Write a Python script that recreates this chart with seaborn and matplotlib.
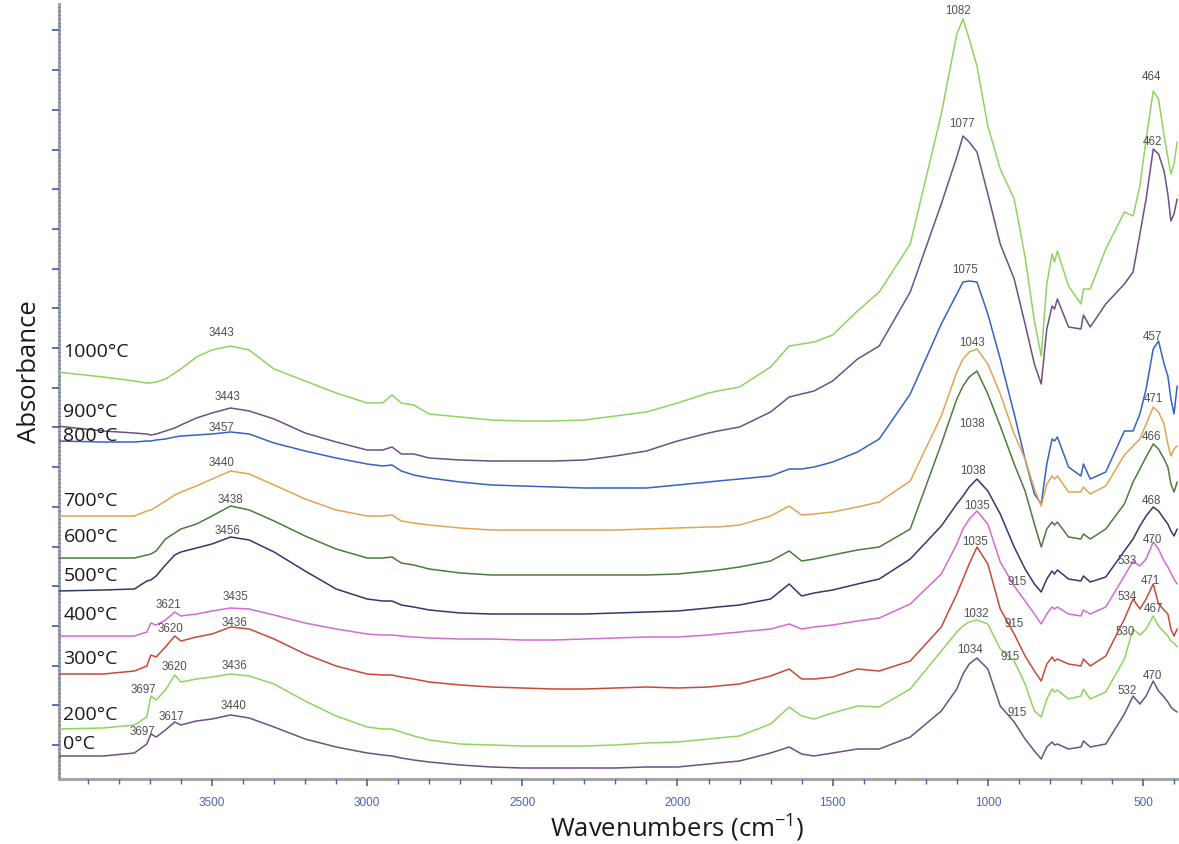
import matplotlib
matplotlib.use("Agg")
import matplotlib.pyplot as plt
import matplotlib.ticker as mticker
import matplotlib.transforms as mtransforms
import pandas as pd
import seaborn as sns
import numpy as np

# wavenumber grid (cm-1) used for every spectrum
wavenumbers = [4000, 3850, 3750, 3710, 3697, 3680, 3650, 3620, 3600, 3550,
               3500, 3440, 3380, 3300, 3200, 3100, 3000, 2950, 2920, 2890,
               2850, 2800, 2700, 2600, 2500, 2400, 2300, 2200, 2100, 2000,
               1900, 1870, 1800, 1700, 1640, 1600, 1560, 1500, 1420, 1350,
               1250, 1150, 1100, 1080, 1060, 1035, 1000, 960, 915, 880,
               850, 828, 810, 793, 785, 776, 740, 700, 692, 670,
               620, 560, 532, 510, 490, 467, 450, 432, 420, 410, 400, 390]

# stacked absorbance (arbitrary units, offset per temperature)
abs_1000 = [407, 402, 398, 396, 396, 397, 400, 406, 410, 422,
            429, 433, 429, 410, 398, 386, 376, 376, 384, 376,
            374, 365, 362, 359, 358, 358, 359, 363, 367, 376,
            386, 388, 392, 412, 433, 435, 437, 444, 468, 487,
            535, 665, 745, 760, 740, 713, 653, 610, 580, 522,
            458, 423, 495, 525, 517, 528, 493, 475, 490, 490,
            530, 567, 563, 593, 640, 688, 680, 643, 622, 605, 615, 637]
abs_900 = [353, 348, 346, 345, 344, 345, 348, 351, 354, 361,
           366, 371, 368, 360, 346, 337, 329, 329, 332, 325,
           325, 321, 319, 318, 318, 318, 319, 323, 328, 338,
           346, 348, 352, 367, 382, 385, 388, 398, 420, 433,
           487, 575, 622, 643, 637, 627, 585, 535, 500, 455,
           415, 395, 450, 473, 470, 480, 452, 450, 464, 452,
           475, 495, 507, 545, 580, 630, 625, 608, 585, 558, 565, 580]
abs_800 = [338, 337, 337, 338, 338, 339, 340, 342, 343, 344,
           345, 347, 345, 336, 328, 321, 315, 313, 314, 308,
           304, 301, 297, 294, 293, 292, 291, 291, 291, 294,
           297, 298, 300, 303, 310, 310, 312, 317, 327, 340,
           385, 455, 485, 497, 498, 497, 465, 420, 365, 320,
           285, 275, 315, 340, 338, 342, 312, 303, 315, 300,
           307, 348, 348, 365, 390, 430, 438, 415, 403, 380, 365, 393]
abs_700 = [263, 263, 263, 268, 269, 272, 278, 284, 287, 293,
           300, 308, 305, 294, 280, 269, 263, 263, 264, 258,
           256, 254, 251, 249, 249, 249, 249, 249, 250, 251,
           252, 252, 254, 263, 273, 264, 265, 267, 272, 277,
           298, 363, 407, 420, 427, 430, 415, 385, 345, 320,
           290, 273, 295, 303, 300, 303, 287, 287, 292, 285,
           293, 324, 333, 340, 355, 372, 367, 355, 335, 323, 330, 333]
abs_600 = [221, 221, 221, 224, 225, 228, 240, 246, 250, 255,
           263, 273, 269, 258, 243, 230, 221, 221, 222, 216,
           214, 210, 206, 204, 204, 204, 204, 204, 204, 205,
           208, 209, 212, 218, 228, 218, 220, 224, 229, 232,
           250, 335, 380, 393, 402, 408, 385, 353, 315, 288,
           255, 232, 250, 257, 254, 257, 242, 240, 245, 240,
           250, 275, 297, 310, 322, 335, 330, 320, 312, 295, 287, 297]
abs_500 = [188, 189, 190, 198, 199, 203, 214, 224, 227, 231,
           235, 242, 239, 227, 208, 190, 180, 178, 178, 174,
           172, 169, 166, 165, 165, 165, 165, 166, 167, 168,
           171, 172, 174, 180, 195, 183, 186, 189, 195, 200,
           220, 253, 275, 283, 292, 300, 288, 265, 232, 210,
           195, 187, 200, 208, 205, 209, 200, 198, 203, 197,
           202, 228, 240, 253, 263, 272, 268, 260, 255, 248, 243, 250]
abs_400 = [143, 143, 143, 147, 156, 154, 159, 167, 163, 165,
           168, 171, 170, 164, 156, 150, 145, 144, 144, 143,
           142, 141, 140, 140, 139, 139, 140, 141, 142, 142,
           144, 145, 147, 150, 155, 150, 152, 154, 158, 161,
           175, 205, 235, 250, 260, 268, 255, 217, 193, 178,
           165, 155, 165, 172, 170, 172, 165, 163, 169, 165,
           172, 203, 218, 213, 220, 237, 230, 218, 212, 206, 200, 195]
abs_300 = [105, 105, 108, 113, 124, 122, 132, 143, 138, 142,
           145, 152, 150, 140, 125, 113, 105, 104, 104, 102,
           100, 97, 94, 92, 91, 90, 90, 91, 92, 91,
           92, 93, 95, 103, 110, 100, 100, 102, 110, 108,
           118, 152, 185, 200, 215, 232, 215, 170, 145, 123,
           108, 98, 115, 122, 118, 120, 115, 113, 120, 113,
           123, 160, 180, 170, 180, 195, 175, 169, 165, 150, 143, 150]
abs_200 = [50, 51, 54, 62, 83, 79, 89, 104, 97, 100,
           102, 105, 103, 95, 78, 63, 52, 50, 50, 47,
           43, 39, 35, 34, 33, 33, 33, 34, 36, 37,
           40, 41, 43, 55, 72, 63, 60, 66, 73, 72,
           90, 128, 147, 153, 157, 159, 155, 130, 118, 95,
           68, 62, 80, 90, 87, 89, 80, 83, 90, 80,
           87, 120, 150, 144, 150, 163, 153, 147, 143, 138, 136, 132]
abs_0 = [23, 23, 26, 35, 45, 42, 49, 57, 54, 58,
         60, 64, 61, 52, 40, 32, 26, 24, 23, 21,
         19, 17, 14, 12, 11, 11, 11, 11, 12, 12,
         15, 16, 18, 26, 32, 25, 23, 26, 30, 30,
         42, 68, 90, 105, 115, 121, 110, 73, 57, 40,
         28, 20, 32, 37, 34, 35, 30, 32, 38, 32,
         35, 65, 83, 75, 83, 98, 88, 82, 77, 72, 69, 67]

temperatures = ["1000°C", "900°C", "800°C", "700°C", "600°C",
                "500°C", "400°C", "300°C", "200°C", "0°C"]
spectra = [abs_1000, abs_900, abs_800, abs_700, abs_600,
           abs_500, abs_400, abs_300, abs_200, abs_0]

# peak labels: (temperature, peak wavenumber text)
peaks = [("1000°C", "3443"), ("1000°C", "1082"), ("1000°C", "464"),
         ("900°C", "3443"), ("900°C", "1077"), ("900°C", "462"),
         ("800°C", "3457"), ("800°C", "1075"), ("800°C", "457"),
         ("700°C", "3440"), ("700°C", "1043"), ("700°C", "471"),
         ("600°C", "3438"), ("600°C", "1038"), ("600°C", "466"),
         ("500°C", "3456"), ("500°C", "1038"), ("500°C", "468"),
         ("400°C", "3621"), ("400°C", "3435"), ("400°C", "1035"),
         ("400°C", "915"), ("400°C", "533"), ("400°C", "470"),
         ("300°C", "3620"), ("300°C", "3436"), ("300°C", "1035"),
         ("300°C", "915"), ("300°C", "534"), ("300°C", "471"),
         ("200°C", "3697"), ("200°C", "3620"), ("200°C", "3436"),
         ("200°C", "1032"), ("200°C", "915"), ("200°C", "530"), ("200°C", "467"),
         ("0°C", "3697"), ("0°C", "3617"), ("0°C", "3440"),
         ("0°C", "1034"), ("0°C", "915"), ("0°C", "532"), ("0°C", "470")]

# layout: pixel offsets of each peak label from its peak, and temperature label heights
peak_offsets = [(-8, 14), (-4, 10), (-3, 16),
                (-2, 12), (-2, 14), (-2, 9),
                (-4, 6), (0, 13), (-4, 8),
                (-9, 9), (-2, 8), (1, 12),
                (-1, 7), (-4, -51), (-2, 8),
                (2, 9), (-3, 10), (-1, 7),
                (-6, 8), (3, 12), (0, 6), (3, 5), (-6, 2), (0, 5),
                (-4, 8), (3, 5), (-2, 6), (0, 11), (-5, 4), (-2, 7),
                (-7, 7), (0, 9), (3, 9), (-2, 7), (-4, 5), (-9, -1), (0, 8),
                (-8, 3), (-4, 6), (3, 10), (-7, 9), (3, 10), (-6, 6), (0, 8)]
temp_label_y = [428, 368, 344, 279, 243, 204, 165, 121, 65, 36]

palette = {"1000°C": "#8fd45f", "900°C": "#6e4f86", "800°C": "#3562c4",
           "700°C": "#e1a552", "600°C": "#4b7c3b", "500°C": "#2d3a6c",
           "400°C": "#d36bd6", "300°C": "#c84a35", "200°C": "#8fd45f",
           "0°C": "#6e4f86"}

frames = []
for t, s in zip(temperatures, spectra):
    frames.append(pd.DataFrame({"wavenumber": wavenumbers, "absorbance": s, "temperature": t}))
df = pd.concat(frames, ignore_index=True)

sns.set_style("white")
plt.rcParams["font.family"] = ["Open Sans", "DejaVu Sans"]
plt.rcParams["mathtext.fontset"] = "custom"
plt.rcParams["mathtext.rm"] = "Open Sans"
plt.rcParams["mathtext.default"] = "regular"

fig = plt.figure(figsize=(11.79, 8.45), dpi=100)
ax = fig.add_axes([59 / 1179, 65 / 845, 1120 / 1179, 775 / 845])

sns.lineplot(data=df, x="wavenumber", y="absorbance", hue="temperature",
             hue_order=temperatures, palette=palette, estimator=None, sort=False,
             legend=False, linewidth=1.1, ax=ax)

ax.set_xlim(3993, 384)
ax.set_ylim(0, 775)

# peak labels
wn_rev = np.array(wavenumbers[::-1], dtype=float)
for (t, txt), (dx, dy) in zip(peaks, peak_offsets):
    s = np.array(spectra[temperatures.index(t)][::-1], dtype=float)
    p = float(txt)
    ax.annotate(txt, xy=(p, np.interp(p, wn_rev, s)), xytext=(dx, dy),
                textcoords="offset pixels", ha="center", va="center",
                fontsize=8.3, color="#505050", family="Liberation Sans")

# temperature labels on the left
trans = mtransforms.blended_transform_factory(ax.transAxes, ax.transData)
for t, y in zip(temperatures, temp_label_y):
    ax.text(0.004, y, t, transform=trans, ha="left", va="center",
            fontsize=14, color="#1a1a1a")

# axes styling
for side in ["top", "right"]:
    ax.spines[side].set_visible(False)
for side in ["left", "bottom"]:
    ax.spines[side].set_color("#a5a5a5")
    ax.spines[side].set_linewidth(2.2)
    ax.spines[side].set_zorder(0.5)

ax.xaxis.set_major_locator(mticker.MultipleLocator(500))
ax.xaxis.set_minor_locator(mticker.MultipleLocator(100))
ax.yaxis.set_major_locator(mticker.FixedLocator(np.arange(34, 775, 39.7)))
ax.yaxis.set_minor_locator(mticker.FixedLocator(np.arange(2.2, 775, 3.97)))
ax.tick_params(axis="x", which="both", bottom=True, top=False)
ax.tick_params(axis="y", which="both", left=True, right=False)
ax.tick_params(axis="x", which="major", direction="out", length=5, width=1.2,
               color="#4a64b4", labelcolor="#4a64b4", labelsize=8.5, pad=7)
ax.tick_params(axis="x", which="minor", direction="out", length=3.5, width=1, color="#4a64b4")
ax.tick_params(axis="y", which="major", direction="out", length=5, width=1.3,
               color="#4a64b4", labelleft=False)
ax.tick_params(axis="y", which="minor", direction="inout", length=2, width=0.9, color="#5a74c4")
for lab in ax.get_xticklabels():
    lab.set_family("Liberation Sans")
ax.set_xlabel("")
ax.set_ylabel("")

fig.text(30 / 1179, 1 - 372 / 845, "Absorbance", rotation=90, ha="center",
         va="center", fontsize=18.5, color="#1a1a1a")
fig.text(677 / 1179, 1 - 828 / 845, "Wavenumbers (cm$^{\\mathregular{-1}}$)", ha="center",
         va="center", fontsize=18.5, color="#1a1a1a")

fig.savefig("out.png", dpi=100, facecolor="white")
